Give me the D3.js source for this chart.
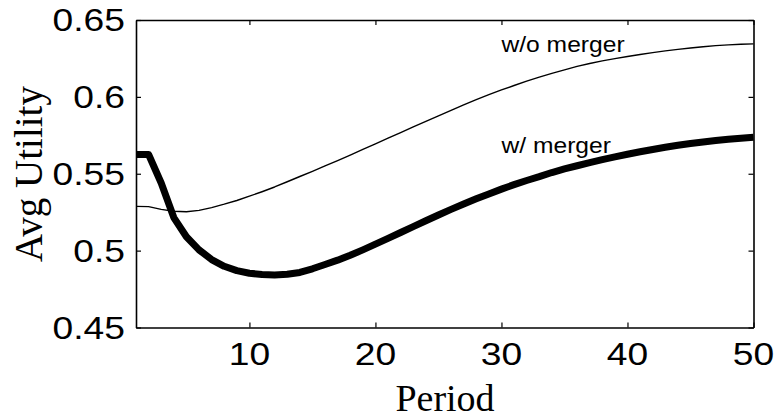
<!DOCTYPE html>
<html>
<head>
<meta charset="utf-8">
<script src="https://cdn.jsdelivr.net/npm/d3@7"></script>
<style>
  body { margin: 0; background: #fff; }
  .tick-label { font-family: "Liberation Sans", Arial, sans-serif; font-size: 31px; fill: #000; }
  .axis-title { font-family: "Liberation Serif", "Times New Roman", serif; font-size: 38px; fill: #000; }
  .note { font-family: "Liberation Sans", Arial, sans-serif; font-size: 22px; fill: #000; }
</style>
</head>
<body>
<div class="container"></div>
<script>
// periods 1..50
var periods = d3.range(1, 51);

var withoutMerger = [
  0.5288, 0.5286, 0.5268, 0.5256, 0.5253, 0.5262, 0.5280, 0.5302, 0.5326, 0.5354,
  0.5383, 0.5414, 0.5448, 0.5482, 0.5516, 0.5551, 0.5586, 0.5621, 0.5658, 0.5694,
  0.5731, 0.5768, 0.5805, 0.5841, 0.5876, 0.5912, 0.5948, 0.5982, 0.6014, 0.6045,
  0.6074, 0.6102, 0.6128, 0.6153, 0.6176, 0.6198, 0.6217, 0.6234, 0.6249, 0.6263,
  0.6276, 0.6288, 0.6299, 0.6309, 0.6318, 0.6326, 0.6333, 0.6338, 0.6342, 0.6345
];

var withMerger = [
  0.5625, 0.5625, 0.5440, 0.5215, 0.5090, 0.5005, 0.4942, 0.4898, 0.4870, 0.4853,
  0.4845, 0.4842, 0.4846, 0.4858, 0.4882, 0.4910, 0.4938, 0.4970, 0.5005, 0.5042,
  0.5080, 0.5118, 0.5156, 0.5194, 0.5232, 0.5268, 0.5303, 0.5337, 0.5369, 0.5400,
  0.5429, 0.5456, 0.5481, 0.5508, 0.5531, 0.5552, 0.5572, 0.5592, 0.5610, 0.5627,
  0.5643, 0.5658, 0.5672, 0.5685, 0.5697, 0.5707, 0.5716, 0.5724, 0.5731, 0.5737
];

var xTicks = [10, 20, 30, 40, 50];
var yTicks = [0.45, 0.5, 0.55, 0.6, 0.65];
var yTickLabels = ['0.45', '0.5', '0.55', '0.6', '0.65'];

// text notes, in data units
var noteText = ['w/o merger', 'w/ merger'];
var noteX = [30, 30];
var noteY = [0.6294, 0.5638];

var width = 778, height = 419;
var margin = { left: 136, right: 24.5, top: 20, bottom: 91.5 };
var STRETCH = 1.2;   // the picture's sans text is drawn a bit wider than it is tall
var NOTE_STRETCH = 1.12;

var svg = d3.select('.container')
  .append('svg')
    .attr('width', width)
    .attr('height', height);

svg.append('rect').attr('width', width).attr('height', height).attr('fill', '#fff');

var x = d3.scaleLinear().domain([1, 50]).range([margin.left, width - margin.right]);
var y = d3.scaleLinear().domain([0.45, 0.65]).range([height - margin.bottom, margin.top]);

var TICK = 5;

// axes (box with mirrored ticks, ticks point inward)
var xAxisBottom = d3.axisBottom(x).tickValues(xTicks).tickSizeInner(-TICK).tickSizeOuter(0).tickFormat('');
var xAxisTop = d3.axisTop(x).tickValues(xTicks).tickSizeInner(-TICK).tickSizeOuter(0).tickFormat('');
var yAxisLeft = d3.axisLeft(y).tickValues(yTicks).tickSizeInner(-TICK).tickSizeOuter(0).tickFormat('');
var yAxisRight = d3.axisRight(y).tickValues(yTicks).tickSizeInner(-TICK).tickSizeOuter(0).tickFormat('');

function styleAxis(g) {
  g.selectAll('path').attr('stroke', '#000').attr('stroke-width', 1.6);
  g.selectAll('line').attr('stroke', '#000').attr('stroke-width', 1.2);
}

svg.append('g').attr('transform', 'translate(0,' + y(0.45) + ')').call(xAxisBottom).call(styleAxis);
svg.append('g').attr('transform', 'translate(0,' + y(0.65) + ')').call(xAxisTop).call(styleAxis);
svg.append('g').attr('transform', 'translate(' + x(1) + ',0)').call(yAxisLeft).call(styleAxis);
svg.append('g').attr('transform', 'translate(' + x(50) + ',0)').call(yAxisRight).call(styleAxis);

// tick labels
svg.selectAll('.xlab')
  .data(xTicks)
  .enter().append('text')
    .attr('class', 'tick-label')
    .attr('transform', function(d) { return 'translate(' + x(d) + ',365) scale(' + STRETCH + ',1)'; })
    .style('text-anchor', 'middle')
    .text(function(d) { return d; });

svg.selectAll('.ylab')
  .data(yTicks)
  .enter().append('text')
    .attr('class', 'tick-label')
    .attr('transform', function(d) { return 'translate(' + (x(1) - 11) + ',' + y(d) + ') scale(' + STRETCH + ',1)'; })
    .attr('dy', '0.36em')
    .style('text-anchor', 'end')
    .text(function(d, i) { return yTickLabels[i]; });

// axis titles
svg.append('text')
  .attr('class', 'axis-title')
  .attr('x', 445)
  .attr('y', 411)
  .style('text-anchor', 'middle')
  .text('Period');

svg.append('text')
  .attr('class', 'axis-title')
  .attr('transform', 'translate(42,174) rotate(-90)')
  .style('text-anchor', 'middle')
  .style('font-size', '39px')
  .text('Avg Utility');

// lines
var line = d3.line()
  .x(function(d, i) { return x(periods[i]); })
  .y(function(d) { return y(d); });

svg.append('path')
  .datum(withoutMerger)
  .attr('fill', 'none')
  .attr('stroke', '#000')
  .attr('stroke-width', 1.4)
  .attr('stroke-linejoin', 'round')
  .attr('d', line);

svg.append('path')
  .datum(withMerger)
  .attr('fill', 'none')
  .attr('stroke', '#000')
  .attr('stroke-width', 7)
  .attr('stroke-linejoin', 'round')
  .attr('d', line);

// notes
noteText.forEach(function(t, i) {
  svg.append('text')
    .attr('class', 'note')
    .attr('transform', 'translate(' + x(noteX[i]) + ',' + y(noteY[i]) + ') scale(' + NOTE_STRETCH + ',1)')
    .text(t);
});
</script>
</body>
</html>
